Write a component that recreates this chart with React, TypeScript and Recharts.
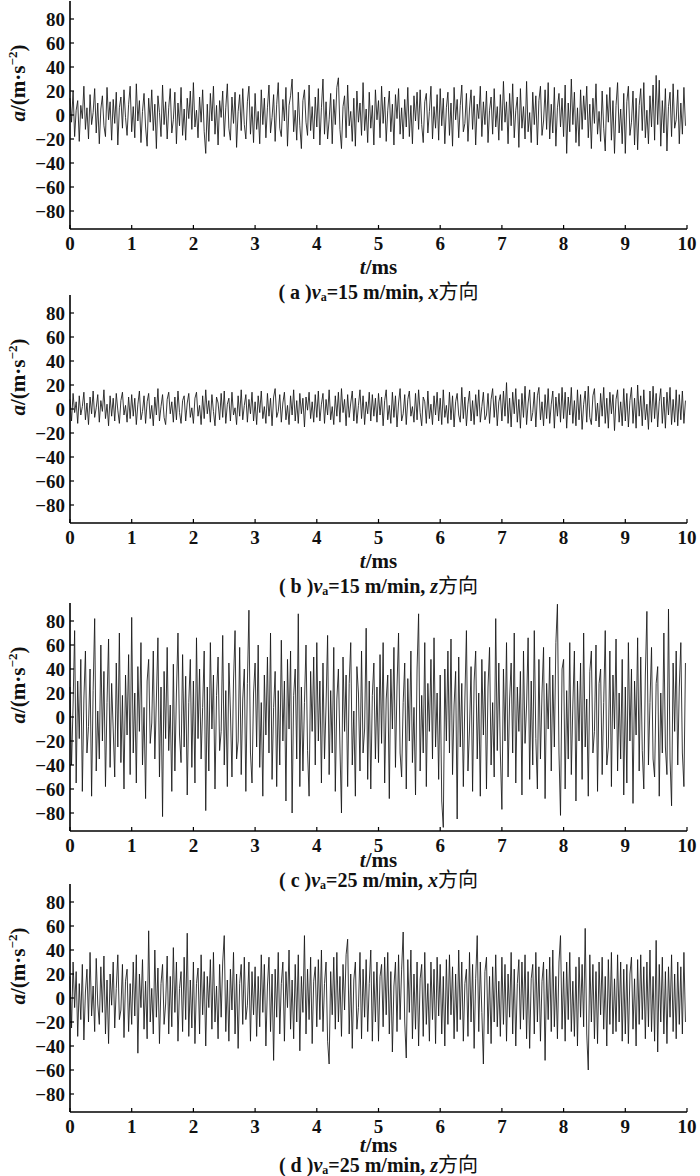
import React from 'react';
import { LineChart, Line, XAxis, YAxis } from 'recharts';

// sample spacing of the recorded signal (ms)
const T_STEP = 0.025;

const X_TICKS = [0, 1, 2, 3, 4, 5, 6, 7, 8, 9, 10];
const Y_TICKS = [-80, -60, -40, -20, 0, 20, 40, 60, 80];

// (a) va = 15 m/min, x direction  (2 lines = 1 ms)
const ACC_A = [
  14, -6, 20, -18, 4, 12, -22, 8, -3, 24, -12, 6, -20, 17, -8, 2, 22, -15, 10, -24,
  5, 16, -9, -18, 23, -4, 11, -21, 13, -7, 19, -25, 6, 15, -11, 21, -2, -17, 9, 24,
  -14, 7, -19, 26, -5, 12, -23, 3, 18, -10, -26, 14, -6, 21, -13, 9, -28, 16, 2, -18,
  25, -8, 11, -20, 6, 22, -15, -4, 19, -24, 10, -9, 23, -17, 5, -21, 14, -3, 20, -12,
  27, -10, 4, -19, 15, -6, 21, -14, -32, 9, -22, 18, -5, 24, -16, 8, -25, 12, -2, 20,
  -18, 6, 26, -11, -21, 15, -7, 19, -27, 3, 17, -13, 22, -8, -20, 11, 24, -16, 7, -23,
  18, -12, 3, -24, 21, -8, 14, -19, 6, 25, -15, -2, 17, -22, 9, 27, -11, -18, 13, -5,
  23, -26, 8, 16, 30, -14, 4, -21, 19, -9, -28, 12, 21, -6, -17, 25, -13, 7, -20, 15,
  -10, 22, -25, 6, 30, -16, 11, -20, -4, 18, -24, 13, -8, 23, 31, -12, -28, 7, 16, -19,
  25, -9, 3, -22, 14, -26, 20, -6, 10, -17, 27, -13, 5, -23, 19, -11, 8, -25, 21, -4,
  12, -19, 24, -7, 15, -22, 4, 20, -14, 9, -25, 17, -3, 22, -16, 6, -20, 13, -10, 23,
  -18, 8, -24, 16, -5, 19, -12, 21, -8, -23, 11, 18, -15, 3, 24, -20, 7, -11, 17, -21,
  22, -9, 14, -24, 6, 19, -17, 10, -26, 23, -4, 13, -19, 8, 25, -14, -7, 18, -22, 5,
  21, -12, 16, -25, 9, -3, 24, -18, 11, -8, 20, -23, 4, 15, -16, 22, -10, 7, -21, 17,
  -13, 28, -6, 11, -24, 18, -9, 26, -19, 4, 15, -27, 22, -11, 7, -20, 28, -14, 2, -23,
  19, -8, 16, -25, 12, 24, -17, -5, 21, -12, 27, -20, 9, -15, 23, -26, 6, 18, -10, 14,
  -18, 25, -32, 10, -14, 30, -8, 19, -23, 6, -26, 21, -12, 16, -4, 24, -19, 9, -28, 14,
  -7, 26, -16, 3, -22, 20, -11, -30, 17, -6, 23, -21, 12, -32, 8, 27, -15, 5, -24, 18,
  -32, 11, 24, -17, -6, 20, -25, 14, -29, 8, 22, -13, 27, -19, 4, -24, 16, -10, 25, -21,
  33, -8, 29, -26, 12, -15, 22, -30, 7, 19, -18, 26, -11, -4, 21, -24, 10, -16, 23, -9,
];

// (b) va = 15 m/min, z direction
const ACC_B = [
  8, -10, 13, -3, 6, -12, 11, -5, 2, 14, -9, 5, -13, 10, -4, 15, -7, 1, 12, -11,
  7, -2, 16, -8, 4, -14, 11, -6, 9, -10, 13, -1, -12, 7, 14, -5, 3, -11, 10, -8,
  12, -6, 9, -13, 4, 15, -9, -2, 11, -12, 6, 13, -8, 3, -14, 10, -5, 17, -10, 2,
  12, -7, -13, 8, 14, -4, 6, -11, 10, -9, 15, -3, -12, 7, 11, -10, 5, 13, -7, 1,
  -12, 9, 14, -6, 3, -13, 11, -8, 16, -4, 7, -11, 12, -2, -14, 10, 5, -9, 13, -7,
  15, -12, 4, 9, -10, 14, -5, 1, -13, 11, -6, 16, -9, 3, 12, -11, 8, -4, 14, -10,
  6, -13, 11, -3, 15, -8, 2, -12, 13, -6, 9, -14, 10, 17, -7, -2, 12, -11, 5, 14,
  -9, 3, -13, 11, -5, 16, -10, 7, -12, 13, -4, 9, -15, 10, -1, 14, -8, 6, -11, 12,
  -7, 15, -10, 4, 13, -12, 8, -5, 16, -9, 2, -13, 11, -6, 14, -11, 17, -3, 8, -14,
  12, -7, 5, 15, -10, 9, -12, 3, 16, -8, 11, -13, 6, -4, 14, -10, 12, -6, 9, -11,
  13, -5, 10, -14, 7, 16, -9, 3, -12, 14, -7, 11, -15, 5, 17, -10, -4, 12, -13, 8,
  15, -6, 2, -11, 13, -9, 16, -3, -14, 10, 6, -12, 15, -8, 4, -13, 11, -5, 14, -10,
  9, -13, 16, -7, 3, -12, 14, -9, 11, -15, 6, 13, -5, -11, 18, -8, 10, -14, 4, 15,
  -10, 7, -13, 12, -6, 16, -11, 2, 14, -9, -5, 13, -12, 8, 17, -7, 11, -14, 6, 12,
  -10, 15, -6, 22, -12, 9, -15, 14, -4, 17, -11, 8, -16, 13, -7, 19, -13, 5, 16, -10,
  -3, 14, -15, 11, 18, -9, 6, -14, 12, -8, 17, -12, 4, 15, -16, 10, -6, 13, -11, 18,
  -8, 14, -16, 10, -5, 18, -12, 7, -14, 16, -9, 12, -17, 4, 15, -11, 19, -7, -13, 11,
  17, -10, 5, -15, 13, -6, 18, -12, 9, -16, 14, -4, 12, -18, 8, 16, -11, 6, -14, 17,
  -10, 13, -15, 7, 18, -12, 9, -16, 20, -6, 11, -14, 16, -9, 4, -17, 15, -11, 19, -8,
  13, -15, 6, 17, -12, 10, -16, 14, -5, 18, -13, 8, -11, 16, -14, 12, -9, 15, -12, 7,
];

// (c) va = 25 m/min, x direction
const ACC_C = [
  25, -40, 10, 72, -55, 30, -18, 48, -62, 15, 55, -30, -8, 40, -66, 22, 82, -45, 5, -35,
  60, -20, 38, -58, 12, 65, -42, 28, -10, -50, 45, -25, 70, -38, 18, -60, 35, -15, 52, -48,
  83, -30, 20, -55, 42, -12, 62, -40, 8, -68, 30, 48, -22, -5, 55, -35, 15, 66, -50, 25,
  -83, 38, -18, 58, -28, 10, -62, 44, -45, 20, 70, -15, -38, 52, -25, 34, -65, 12, 48, -42,
  30, -55, 66, -18, 40, -35, 8, 55, -78, 25, -45, 62, -10, 35, -60, 18, 50, -28, -12, 68,
  -40, 22, -58, 45, 5, -50, 30, 72, -35, -20, 58, -48, 15, 40, -62, 28, 89, -30, -55, 20,
  45, -25, 60, -42, 12, -66, 35, -15, 50, -30, 70, -52, 8, 38, -58, 22, -40, 64, -20, 30,
  -70, 48, -10, 55, -80, 18, 40, -35, 86, -58, 25, -45, 12, 60, -28, -66, 38, -12, 50, -40,
  62, -20, 30, -55, 45, -35, 10, 68, -48, 22, -30, 58, -62, 15, 40, -25, -80, 50, -12, 35,
  -58, 28, 62, -40, 5, -66, 42, 20, -45, 55, -30, -10, 74, -52, 30, -60, 18, 45, -35, 25,
  -38, 52, -22, 62, -55, 15, 35, -68, 40, -10, 58, -42, 25, 70, -30, -50, 12, 45, -60, 32,
  -20, 55, -38, 8, -65, 40, 86, -45, 18, -30, 62, -58, 28, -12, 48, -35, 66, -25, 20, -52,
  35, -70, -92, 40, -20, 55, -30, 65, -48, 10, 38, -85, 50, -25, 28, -58, 15, 72, -45, -10,
  42, -62, 30, 55, -35, 20, -66, 48, -15, 38, -60, 25, 58, -40, 12, -50, 82, -28, 45, -30,
  -77, 40, -20, 62, -50, 15, 45, -30, 70, -55, 25, -12, 38, -65, 55, -22, 10, 66, -52, 30,
  -40, 72, -18, -60, 48, -35, 20, 58, -68, 28, -10, 50, -45, 35, -25, 62, 94, -30, -82, 40,
  48, -60, 22, -35, 62, -48, 10, 55, -70, 30, -20, 45, -52, 70, -25, 15, -66, 38, 55, -30,
  -12, 60, -62, 28, 40, -48, 12, 72, -40, -25, 55, -58, 35, -10, 65, -45, 20, -35, 48, -65,
  25, -55, 62, -20, 40, -72, 30, -15, 66, -45, 50, -28, -60, 35, 88, -40, 12, 58, -35, -50,
  28, 42, -66, 20, -30, 70, -25, -48, 90, -35, -74, 45, -12, 55, -40, 25, 62, -30, -58, 45,
];

// (d) va = 25 m/min, z direction
const ACC_D = [
  18, -25, 30, -8, 22, -32, 12, -18, 28, -35, 5, 24, -20, 38, -15, 10, -28, 33, -5, -22,
  26, -12, 35, -30, 15, -38, 20, -6, 30, -25, 8, 36, -18, -10, 28, -33, 14, 24, -28, 12,
  -22, 30, -15, 36, -46, 20, -8, 32, -26, 14, -34, 56, -20, 8, -30, 40, -16, 25, -38, 12,
  28, -22, -5, 35, -30, 18, -24, 42, -12, 30, -36, 8, 22, -28, 34, -18, 54, -32, 15, -25,
  30, -38, 12, 25, -30, 36, -14, 22, -40, 18, -8, 32, -26, 38, -20, 10, -34, 28, -16, 30,
  52, -28, 15, -36, 24, -10, 38, -30, 20, -42, 12, 28, -22, 34, -18, -6, 30, -36, 22, -14,
  26, -32, 18, -24, 36, -12, 28, -40, 10, 34, -28, 20, -52, 24, -16, 38, -30, 12, 30, -36,
  22, -8, 40, -26, 15, -34, 28, -20, 36, -44, 18, -12, 52, -30, 24, -18, 34, -38, 14, 26,
  -24, 32, -18, 40, -28, 12, 30, -36, -55, 22, -14, 34, -26, 38, -20, 18, -32, 28, -10, 36,
  49, -30, 20, -42, 15, 30, -26, -8, 38, -34, 24, -16, 32, -28, 12, 40, -36, 22, -20, 30,
  -36, 18, 28, -24, 34, -14, 38, -30, 22, -45, 10, 30, -28, 36, -18, 24, 55, -20, -50, 32,
  -12, 40, -34, 20, -26, 30, -40, 16, 28, -32, 38, -22, 12, -36, 30, -18, 24, -38, 34, -15,
  28, -30, 18, -40, 32, -22, 36, -14, 26, -34, 20, -28, 40, -18, 30, -36, 12, 24, -32, 38,
  -20, 28, -42, 16, 52, -28, 30, -12, -55, 22, 34, -30, 18, -38, 26, -20, 36, -24, 14, -32,
  34, -22, 28, -36, 20, -16, 38, -30, 24, -40, 12, 32, -26, 30, -18, 36, -34, 22, -42, 16,
  28, -30, 38, -20, 26, -36, 14, 30, -52, 24, -18, 34, -28, 40, -24, 18, -34, 30, 52, -26,
  22, -36, 30, -18, 38, -28, 14, -32, 26, -40, 34, -16, 28, -24, 58, -30, -60, 36, -20, 28,
  -34, 22, -38, 30, -14, 34, -26, 18, -40, 32, -22, 38, -30, 16, -28, 36, -20, 30, -36, 24,
  -30, 28, -38, 20, 34, -26, 16, -40, 32, -22, 36, -18, 26, -34, 30, -24, 40, -28, 18, -36,
  48, -45, 28, -20, 34, -30, 22, -38, 26, -16, 36, -28, 20, -34, 30, -22, 26, -30, 38, -20,
];

const SERIF = '"Liberation Serif", "Times New Roman", "Noto Sans CJK SC", serif';
const PLOT_H = 228;
const PLOT_LEFT = 70;
const PLOT_RIGHT = 687;

const panels = [
  { id: 'a', values: ACC_A, top: 1, speed: '15', dir: 'x', xLabelY: 267, captionY: 292 },
  { id: 'b', values: ACC_B, top: 295, speed: '15', dir: 'z', xLabelY: 561, captionY: 586 },
  { id: 'c', values: ACC_C, top: 603, speed: '25', dir: 'x', xLabelY: 860, captionY: 880 },
  { id: 'd', values: ACC_D, top: 884, speed: '25', dir: 'z', xLabelY: 1145, captionY: 1165 },
];

const fmtY = (v: number) => (v < 0 ? '\u2212' + Math.abs(v) : String(v));

const XTick = (props: any) => {
  const { x, y, payload } = props;
  return (
    <g>
      <line x1={x} x2={x} y1={y - 4} y2={y - 8} stroke="#000" strokeWidth={1.2} />
      <text x={x} y={y + 17} textAnchor="middle" fontFamily={SERIF} fontSize={19} fontWeight="bold" fill="#111">
        {payload.value}
      </text>
    </g>
  );
};

const YTick = (props: any) => {
  const { x, y, payload } = props;
  return (
    <g>
      <line x1={x + 4} x2={x + 8} y1={y} y2={y} stroke="#000" strokeWidth={1.2} />
      <text x={x - 1} y={y} dy="0.35em" textAnchor="end" fontFamily={SERIF} fontSize={19} fontWeight="bold" fill="#111">
        {fmtY(payload.value)}
      </text>
    </g>
  );
};

function Panel({ p }: { p: (typeof panels)[number] }) {
  const data = p.values.map((v, i) => ({ t: Math.round(i * T_STEP * 1000) / 1000, a: v }));
  const zeroY = p.top + PLOT_H / 2;
  const midX = (PLOT_LEFT + PLOT_RIGHT) / 2;
  return (
    <>
      <div style={{ position: 'absolute', left: 0, top: p.top }}>
        <LineChart width={700} height={PLOT_H + 40} data={data} margin={{ top: 0, right: 700 - PLOT_RIGHT, left: 0, bottom: 0 }}>
          <XAxis
            dataKey="t"
            type="number"
            domain={[0, 10]}
            ticks={X_TICKS}
            interval={0}
            height={40}
            tickSize={0}
            tickMargin={4}
            tick={<XTick />}
            axisLine={{ stroke: '#000', strokeWidth: 1.6 }}
          />
          <YAxis
            type="number"
            domain={[-95, 95]}
            ticks={Y_TICKS}
            interval={0}
            width={PLOT_LEFT}
            tickSize={0}
            tickMargin={4}
            tick={<YTick />}
            axisLine={{ stroke: '#000', strokeWidth: 1.6 }}
          />
          <Line
            type="linear"
            dataKey="a"
            stroke="#151515"
            strokeWidth={0.85}
            dot={false}
            isAnimationActive={false}
          />
        </LineChart>
      </div>
      <div
        style={{
          position: 'absolute',
          left: 18,
          top: zeroY - 32,
          transform: 'translate(-50%, -50%) rotate(-90deg)',
          whiteSpace: 'nowrap',
          fontFamily: SERIF,
          fontSize: 21,
          fontWeight: 'bold',
          color: '#111',
        }}
      >
        <i>a</i>/(m·s<sup style={{ fontSize: 13 }}>−2</sup>)
      </div>
      <div
        style={{
          position: 'absolute',
          left: midX,
          top: p.xLabelY,
          transform: 'translate(-50%, -50%)',
          whiteSpace: 'nowrap',
          fontFamily: SERIF,
          fontSize: 21,
          fontWeight: 'bold',
          color: '#111',
          lineHeight: 1,
        }}
      >
        <i>t</i>/ms
      </div>
      <div
        style={{
          position: 'absolute',
          left: midX,
          top: p.captionY,
          transform: 'translate(-50%, -50%)',
          whiteSpace: 'nowrap',
          fontFamily: SERIF,
          fontSize: 20,
          fontWeight: 'bold',
          color: '#111',
          lineHeight: 1,
        }}
      >
        ({'\u2005'}{p.id}{'\u2005'})<i>v</i>
        <span style={{ fontSize: 12, verticalAlign: '-0.12em' }}>a</span>={p.speed} m/min, <i>{p.dir}</i>
        <span style={{ fontFamily: '"Noto Sans CJK SC", sans-serif', fontWeight: 'normal' }}>方向</span>
      </div>
    </>
  );
}

export default function App() {
  return (
    <div style={{ position: 'absolute', left: 0, top: 0, width: 700, height: 1176, background: '#fff' }}>
      {panels.map((p) => (
        <Panel key={p.id} p={p} />
      ))}
    </div>
  );
}
